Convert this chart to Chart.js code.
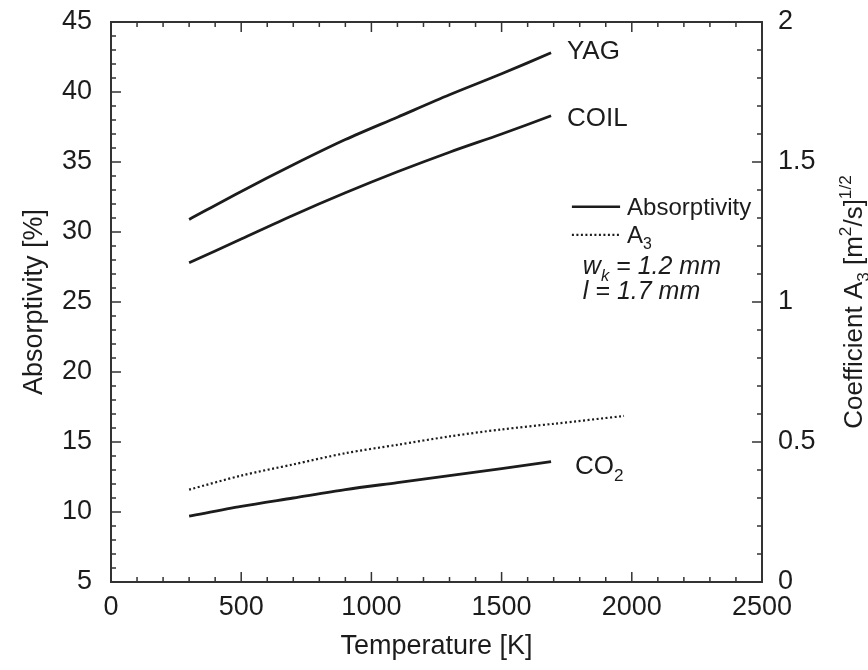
<!DOCTYPE html>
<html>
<head>
<meta charset="utf-8">
<script src="https://cdn.jsdelivr.net/npm/chart.js@4.4.0/dist/chart.umd.min.js"></script>
<style>
  html, body { margin: 0; padding: 0; background: #fff; }
  #wrap { width: 868px; height: 670px; }
</style>
</head>
<body>
<div id="wrap"><canvas id="myChart" width="868" height="670"></canvas></div>
<script>
// temperatures [K] for the absorptivity curves
const temps = [300, 500, 700, 900, 1100, 1300, 1500, 1690];
// absorptivity [%]
const yag  = [30.9, 32.9, 34.8, 36.6, 38.2, 39.8, 41.3, 42.8];
const coil = [27.8, 29.5, 31.2, 32.8, 34.3, 35.7, 37.0, 38.3];
const co2  = [9.7, 10.4, 11.0, 11.6, 12.1, 12.6, 13.1, 13.6];
// coefficient A3 [m^2/s]^(1/2)
const a3Temps = [300, 500, 700, 900, 1100, 1300, 1500, 1700, 1970];
const a3      = [0.33, 0.38, 0.42, 0.46, 0.49, 0.52, 0.545, 0.565, 0.593];

const INK = '#1c1c1c';
const FONT = '"Liberation Sans", Arial, sans-serif';
const SIZE = 26;

const pts = (xs, ys) => xs.map((x, i) => ({ x: x, y: ys[i] }));

// draw a run of text pieces, some sub/superscript or italic
function drawRich(ctx, parts, x, y, size, align) {
  const widths = parts.map(p => {
    const s = p.sub || p.sup ? size * 0.66 : size;
    ctx.font = (p.it ? 'italic ' : '') + s + 'px ' + FONT;
    return ctx.measureText(p.t).width;
  });
  const total = widths.reduce((a, b) => a + b, 0);
  let cx = align === 'center' ? x - total / 2 : x;
  ctx.textBaseline = 'alphabetic';
  ctx.textAlign = 'left';
  parts.forEach((p, i) => {
    const s = p.sub || p.sup ? size * 0.66 : size;
    ctx.font = (p.it ? 'italic ' : '') + s + 'px ' + FONT;
    let dy = 0;
    if (p.sub) dy = size * 0.27;
    if (p.sup) dy = -size * 0.42;
    ctx.fillText(p.t, cx, y + dy);
    cx += widths[i];
  });
}

const framePlugin = {
  id: 'frame',
  afterDraw(chart) {
    const { ctx, chartArea: a, scales } = chart;
    const x = scales.x, y = scales.y, y1 = scales.y1;
    ctx.save();
    ctx.strokeStyle = '#333';
    ctx.lineWidth = 2;
    ctx.strokeRect(a.left, a.top, a.right - a.left, a.bottom - a.top);
    ctx.lineWidth = 1.5;
    ctx.beginPath();
    for (let t = 0; t <= 2500; t += 100) {
      const px = x.getPixelForValue(t);
      const len = t % 500 === 0 ? 10 : 5;
      ctx.moveTo(px, a.bottom); ctx.lineTo(px, a.bottom - len);
      ctx.moveTo(px, a.top); ctx.lineTo(px, a.top + len);
    }
    for (let v = 5; v <= 45; v += 1) {
      const py = y.getPixelForValue(v);
      const len = v % 5 === 0 ? 10 : 5;
      ctx.moveTo(a.left, py); ctx.lineTo(a.left + len, py);
    }
    for (let k = 0; k <= 20; k++) {
      const py = y1.getPixelForValue(k / 10);
      const len = k % 5 === 0 ? 10 : 5;
      ctx.moveTo(a.right, py); ctx.lineTo(a.right - len, py);
    }
    ctx.stroke();

    // curve labels
    ctx.fillStyle = INK;
    drawRich(ctx, [{ t: 'YAG' }], x.getPixelForValue(1751), y.getPixelForValue(42.36), SIZE);
    drawRich(ctx, [{ t: 'COIL' }], x.getPixelForValue(1751), y.getPixelForValue(37.57), SIZE);
    drawRich(ctx, [{ t: 'CO' }, { t: '2', sub: true }], x.getPixelForValue(1782), y.getPixelForValue(12.71), SIZE);

    // legend
    ctx.strokeStyle = INK;
    ctx.lineWidth = 2.6;
    ctx.beginPath();
    ctx.moveTo(x.getPixelForValue(1770), y.getPixelForValue(31.8));
    ctx.lineTo(x.getPixelForValue(1955), y.getPixelForValue(31.8));
    ctx.stroke();
    ctx.setLineDash([2, 2.5]);
    ctx.lineWidth = 2.2;
    ctx.beginPath();
    ctx.moveTo(x.getPixelForValue(1770), y.getPixelForValue(29.8));
    ctx.lineTo(x.getPixelForValue(1955), y.getPixelForValue(29.8));
    ctx.stroke();
    ctx.setLineDash([]);
    drawRich(ctx, [{ t: 'Absorptivity' }], x.getPixelForValue(1982), y.getPixelForValue(31.8) + 8, 24);
    drawRich(ctx, [{ t: 'A' }, { t: '3', sub: true }], x.getPixelForValue(1982), y.getPixelForValue(29.8) + 8, 24);
    drawRich(ctx, [{ t: 'w', it: true }, { t: 'k', it: true, sub: true }, { t: ' = 1.2 mm', it: true }],
      x.getPixelForValue(1812), y.getPixelForValue(27.0), 25);
    drawRich(ctx, [{ t: 'l = 1.7 mm', it: true }],
      x.getPixelForValue(1812), y.getPixelForValue(25.2), 25);

    // right axis title
    ctx.translate(843, (a.top + a.bottom) / 2);
    ctx.rotate(-Math.PI / 2);
    drawRich(ctx, [{ t: 'Coefficient A' }, { t: '3', sub: true }, { t: ' [m' }, { t: '2', sup: true },
      { t: '/s]' }, { t: '1/2', sup: true }], 0, 19, SIZE, 'center');
    ctx.restore();
  }
};

const tickFont = { family: FONT, size: 27 };
const titleFont = { family: FONT, size: 27 };

// fixed box sizes so the plot area sits where the reference has it
const fitY = w => s => { s.width = w; s.paddingTop = 0; s.paddingBottom = 0; };

new Chart(document.getElementById('myChart').getContext('2d'), {
  type: 'line',
  data: {
    datasets: [
      { label: 'YAG', data: pts(temps, yag), yAxisID: 'y' },
      { label: 'COIL', data: pts(temps, coil), yAxisID: 'y' },
      { label: 'CO2', data: pts(temps, co2), yAxisID: 'y' },
      { label: 'A3', data: pts(a3Temps, a3), yAxisID: 'y1', borderDash: [2, 2.5], borderWidth: 2.2 }
    ]
  },
  options: {
    responsive: false,
    animation: false,
    layout: { padding: { top: 22, left: 0, right: 0, bottom: 0 } },
    elements: {
      line: { borderColor: INK, borderWidth: 2.8, tension: 0.3, fill: false },
      point: { radius: 0 }
    },
    plugins: { legend: { display: false }, tooltip: { enabled: false } },
    scales: {
      x: {
        type: 'linear', min: 0, max: 2500,
        ticks: { stepSize: 500, font: tickFont, color: INK, padding: 9, callback: v => String(v) },
        grid: { display: false, drawTicks: false },
        border: { display: false },
        title: { display: true, text: 'Temperature [K]', font: titleFont, color: INK, padding: { top: 0, bottom: 7 } },
        afterFit: s => { s.height = 88; s.paddingLeft = 0; s.paddingRight = 0; }
      },
      y: {
        position: 'left', min: 5, max: 45,
        ticks: { stepSize: 5, font: tickFont, color: INK, padding: 19, callback: v => String(v) },
        grid: { display: false, drawTicks: false },
        border: { display: false },
        title: { display: true, text: 'Absorptivity [%]', font: titleFont, color: INK, padding: { top: 18, bottom: 0 } },
        afterFit: fitY(111)
      },
      y1: {
        position: 'right', min: 0, max: 2,
        ticks: { stepSize: 0.5, font: tickFont, color: INK, padding: 16, callback: v => String(v) },
        grid: { display: false, drawTicks: false },
        border: { display: false },
        afterFit: fitY(106)
      }
    }
  },
  plugins: [framePlugin]
});
</script>
</body>
</html>
